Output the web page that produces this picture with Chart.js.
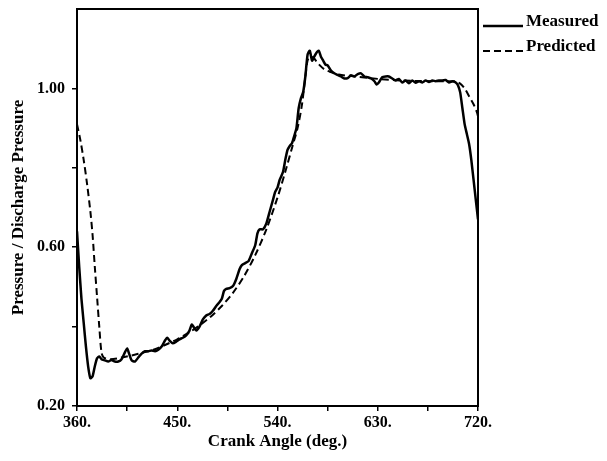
<!DOCTYPE html>
<html>
<head>
<meta charset="utf-8">
<script src="https://cdn.jsdelivr.net/npm/chart.js@4"></script>
<style>
  html, body { margin: 0; padding: 0; background: #fff; }
  canvas { display: block; }
</style>
</head>
<body>
<canvas id="chart" width="607" height="461"></canvas>
<script>
// crank angle (deg.) and pressure ratio
const measuredAngle = [360, 362, 364, 366, 368, 370, 372, 374, 376, 378, 380, 382, 385, 388, 391, 394, 397, 400,
  403, 405, 407, 409, 412, 415, 418, 421, 424, 427, 430, 433, 436, 439, 441, 443, 446, 449, 452, 455, 458, 461,
  463, 465, 467, 470, 473, 476, 479, 482, 485, 488, 490, 492, 494, 497, 500, 503, 506, 508, 511, 514, 517, 520,
  522, 524, 527, 530, 533, 536, 538, 540, 542, 545, 547, 549, 551, 553, 555, 557, 559, 561, 563, 565, 567, 569,
  571, 573, 575, 577, 579, 581, 583, 585, 588, 591, 594, 597, 600, 603, 606, 609, 612, 615, 618, 621, 624, 627,
  629, 631, 634, 637, 640, 643, 646, 649, 652, 655, 658, 661, 664, 667, 670, 673, 676, 679, 682, 685, 688, 691,
  694, 697, 700, 702, 704, 706, 708, 710, 712, 714, 716, 718, 720];
const measuredValue = [0.64, 0.55, 0.47, 0.41, 0.35, 0.30, 0.27, 0.275, 0.30, 0.32, 0.325, 0.318, 0.315, 0.312, 0.316, 0.312, 0.312, 0.318,
  0.335, 0.345, 0.33, 0.315, 0.312, 0.322, 0.332, 0.338, 0.338, 0.34, 0.338, 0.342, 0.35, 0.365, 0.372, 0.365, 0.358, 0.362, 0.368, 0.372, 0.378, 0.39,
  0.405, 0.398, 0.39, 0.40, 0.418, 0.428, 0.432, 0.44, 0.452, 0.462, 0.47, 0.49, 0.495, 0.497, 0.502, 0.52, 0.545, 0.555, 0.56, 0.565, 0.585, 0.605,
  0.635, 0.645, 0.645, 0.66, 0.69, 0.72, 0.74, 0.75, 0.77, 0.79, 0.82, 0.845, 0.855, 0.862, 0.88, 0.90, 0.95, 0.975, 0.99, 1.03, 1.085, 1.095,
  1.07, 1.08, 1.09, 1.095, 1.08, 1.07, 1.06, 1.058, 1.045, 1.038, 1.034, 1.03, 1.025, 1.026, 1.033, 1.03, 1.036, 1.038, 1.03, 1.028, 1.025, 1.018,
  1.01, 1.015, 1.028, 1.03, 1.03, 1.025, 1.02, 1.024, 1.015, 1.02, 1.013, 1.02, 1.014, 1.018, 1.015, 1.02, 1.016, 1.02, 1.018, 1.02, 1.02, 1.021,
  1.015, 1.018, 1.015, 1.008, 0.99, 0.95, 0.91, 0.885, 0.86, 0.82, 0.77, 0.72, 0.67];

const predictedAngle = [360, 363, 366, 369, 372, 374, 376, 378, 380, 382, 384, 390, 400, 410, 420, 430, 440, 450, 460,
  470, 480, 490, 500, 510, 520, 530, 540, 548, 554, 558, 562, 565, 567, 569, 572, 575, 578, 582, 587, 595, 610,
  630, 650, 680, 700, 704, 708, 712, 716, 719, 720];
const predictedValue = [0.91, 0.87, 0.82, 0.76, 0.69, 0.63, 0.55, 0.475, 0.40, 0.335, 0.322, 0.318, 0.322, 0.328, 0.335, 0.343, 0.355, 0.368, 0.384,
  0.403, 0.425, 0.452, 0.485, 0.527, 0.58, 0.645, 0.725, 0.80, 0.86, 0.90, 0.96, 1.03, 1.07, 1.08, 1.078, 1.068, 1.058, 1.048, 1.042, 1.035, 1.03,
  1.024, 1.02, 1.018, 1.017, 1.012, 1.0, 0.98, 0.96, 0.94, 0.93];

const xLabeled = [360, 450, 540, 630, 720];
const yLabeled = [0.2, 0.6, 1.0];

const serif = "'Liberation Serif', 'Times New Roman', serif";

function toPoints(xs, ys) {
  return xs.map((x, i) => ({ x: x, y: ys[i] }));
}

// box around the plot and a legend to the right of it
const framePlugin = {
  id: 'frame',
  afterDraw(chart) {
    const ctx = chart.ctx;
    const a = chart.chartArea;
    ctx.save();
    ctx.strokeStyle = '#000';
    ctx.lineWidth = 2;
    ctx.strokeRect(a.left, a.top, a.right - a.left, a.bottom - a.top);

    ctx.font = 'bold 17px ' + serif;
    ctx.textBaseline = 'middle';
    ctx.fillStyle = '#000';
    chart.data.datasets.forEach((ds, i) => {
      const y = a.top + 15 + i * 25;
      ctx.lineWidth = ds.borderWidth;
      ctx.setLineDash(ds.borderDash || []);
      ctx.beginPath();
      ctx.moveTo(a.right + 5, y + 2);
      ctx.lineTo(a.right + 45, y + 2);
      ctx.stroke();
      ctx.setLineDash([]);
      ctx.fillText(ds.label, a.right + 48, y - 2);
    });
    ctx.restore();
  }
};

new Chart(document.getElementById('chart').getContext('2d'), {
  type: 'line',
  data: {
    datasets: [{
      label: 'Measured',
      data: toPoints(measuredAngle, measuredValue),
      borderColor: '#000',
      borderWidth: 2.5,
      tension: 0.2
    }, {
      label: 'Predicted',
      data: toPoints(predictedAngle, predictedValue),
      borderColor: '#000',
      borderWidth: 2,
      borderDash: [7, 4],
      tension: 0.3
    }]
  },
  options: {
    responsive: false,
    animation: false,
    elements: { point: { radius: 0 } },
    layout: { padding: { left: 0, right: 129, top: 9, bottom: 0 } },
    plugins: { legend: { display: false }, tooltip: { enabled: false } },
    scales: {
      x: {
        type: 'linear',
        min: 360,
        max: 720,
        afterFit: s => { s.height = 55; },
        afterBuildTicks: s => { s.ticks = [360, 405, 450, 495, 540, 585, 630, 675, 720].map(v => ({ value: v })); },
        ticks: {
          color: '#000',
          font: { family: serif, size: 16, weight: 'bold' },
          padding: 2,
          maxRotation: 0,
          autoSkip: false,
          callback: v => xLabeled.includes(v) ? v + '.' : ''
        },
        grid: { drawOnChartArea: false, color: '#000', tickLength: 5, lineWidth: 1.5 },
        border: { color: '#000', width: 2 },
        title: {
          display: true,
          text: 'Crank Angle (deg.)',
          color: '#000',
          font: { family: serif, size: 17, weight: 'bold' },
          padding: { top: 0, bottom: 9 }
        }
      },
      y: {
        type: 'linear',
        min: 0.2,
        max: 1.2,
        afterFit: s => { s.width = 77; s.paddingTop = 0; s.paddingBottom = 0; },
        afterBuildTicks: s => { s.ticks = [0.2, 0.4, 0.6, 0.8, 1.0].map(v => ({ value: v })); },
        ticks: {
          color: '#000',
          font: { family: serif, size: 16, weight: 'bold' },
          padding: 7,
          autoSkip: false,
          callback: v => yLabeled.some(t => Math.abs(t - v) < 1e-6) ? v.toFixed(2) : ''
        },
        grid: { drawOnChartArea: false, color: '#000', tickLength: 5, lineWidth: 1.5 },
        border: { color: '#000', width: 2 },
        title: {
          display: true,
          text: 'Pressure / Discharge Pressure',
          color: '#000',
          font: { family: serif, size: 17, weight: 'bold' },
          padding: { top: 8, bottom: 0 }
        }
      }
    }
  },
  plugins: [framePlugin]
});
</script>
</body>
</html>
